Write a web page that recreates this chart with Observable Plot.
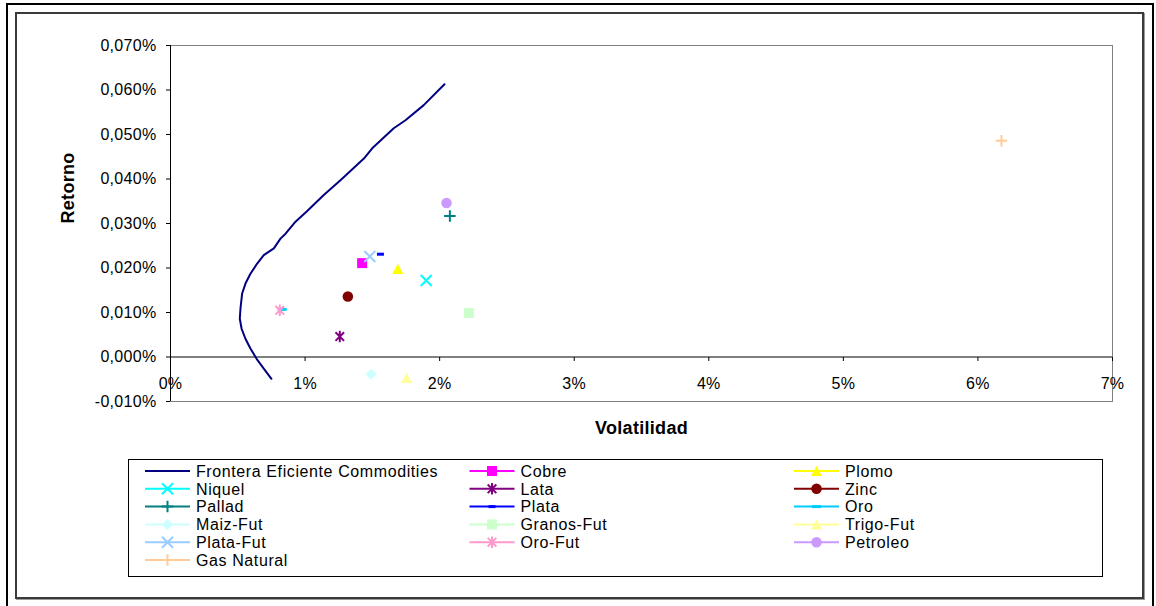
<!DOCTYPE html>
<html>
<head>
<meta charset="utf-8">
<script src="https://cdn.jsdelivr.net/npm/d3@7"></script>
<script src="https://cdn.jsdelivr.net/npm/@observablehq/plot@0.6"></script>
<style>
  html, body { margin: 0; padding: 0; background: #fff; }
  #wrap { position: relative; width: 1156px; height: 606px; overflow: hidden;
          font-family: "Liberation Sans", Arial, sans-serif; }
  #chart { position: absolute; left: 0; top: 0; }
  .outer { position: absolute; left: 6px; top: 3px; width: 1144px; height: 640px;
           border: 2px solid #000; pointer-events: none; }
  .area { position: absolute; left: 15px; top: 12px; width: 1125px; height: 583px;
          border: 2px solid #3a3a3a; box-shadow: 1px 1px 0 #9a9a9a; pointer-events: none; }
  #legend { position: absolute; left: 0; top: 0; pointer-events: none; }
  #legend text { letter-spacing: 0.6px; }
  #chart svg text { letter-spacing: 0.3px; }
</style>
</head>
<body>
<div id="wrap">
  <div id="chart"></div>
  <div class="area"></div>
  <div class="outer"></div>
  <svg id="legend" width="1156" height="606"></svg>
</div>
<script>
// Efficient frontier of the commodity portfolio (volatility %, daily return %)
const frontierVol = [0.750, 0.693, 0.644, 0.594, 0.557, 0.528, 0.515, 0.520, 0.532, 0.557,
                     0.594, 0.644, 0.693, 0.768, 0.817, 0.855, 0.929, 1.016, 1.139, 1.263,
                     1.437, 1.499, 1.659, 1.746, 1.882, 2.036];
const frontierRet = [-0.0049, -0.0026, -0.0006, 0.0019, 0.0041, 0.0064, 0.0086, 0.0109, 0.0142, 0.0165,
                     0.0187, 0.0210, 0.0229, 0.0244, 0.0266, 0.0277, 0.0304, 0.0328, 0.0364, 0.0397,
                     0.0446, 0.0469, 0.0514, 0.0532, 0.0566, 0.0613];

// Individual commodities
const series = ["Cobre", "Plomo", "Niquel", "Lata", "Zinc", "Pallad", "Plata", "Oro",
                "Maiz-Fut", "Granos-Fut", "Trigo-Fut", "Plata-Fut", "Oro-Fut", "Petroleo", "Gas Natural"];
const volatilidad = [1.424, 1.689, 1.900, 1.258, 1.318, 2.076, 1.560, 0.830,
                     1.491, 2.217, 1.755, 1.481, 0.812, 2.051, 6.175];
const retorno = [0.0211, 0.0198, 0.0172, 0.0046, 0.0136, 0.0317, 0.0231, 0.0107,
                 -0.0039, 0.0099, -0.0047, 0.0226, 0.0105, 0.0346, 0.0486];

// Axis ticks
const xTicks = [0, 1, 2, 3, 4, 5, 6, 7];
const yTicks = [-0.01, 0, 0.01, 0.02, 0.03, 0.04, 0.05, 0.06, 0.07];

// Marker shapes; size is the square of the marker's full extent
const shapes = {
  square: { draw(c, size) { const s = Math.sqrt(size); c.rect(-s / 2, -s / 2, s, s); } },
  triangle: { draw(c, size) { const s = Math.sqrt(size), h = s * 0.92;
    c.moveTo(0, -h / 2); c.lineTo(s / 2, h / 2); c.lineTo(-s / 2, h / 2); c.closePath(); } },
  diamond: { draw(c, size) { const r = Math.sqrt(size) / 2;
    c.moveTo(0, -r); c.lineTo(r, 0); c.lineTo(0, r); c.lineTo(-r, 0); c.closePath(); } },
  circle: { draw(c, size) { const r = Math.sqrt(size) / 2; c.moveTo(r, 0); c.arc(0, 0, r, 0, 2 * Math.PI); } },
  dash: { draw(c, size) { const s = Math.sqrt(size); c.rect(-s / 2, -1.5, s, 3); } },
  times: { draw(c, size) { const r = Math.sqrt(size) / 2;
    c.moveTo(-r, -r); c.lineTo(r, r); c.moveTo(-r, r); c.lineTo(r, -r); } },
  plus: { draw(c, size) { const r = Math.sqrt(size) / 2;
    c.moveTo(-r, 0); c.lineTo(r, 0); c.moveTo(0, -r); c.lineTo(0, r); } },
  asterisk: { draw(c, size) { const r = Math.sqrt(size) / 2, d = r * 0.75;
    c.moveTo(0, -r); c.lineTo(0, r); c.moveTo(-d, -d); c.lineTo(d, d); c.moveTo(-d, d); c.lineTo(d, -d); } },
  tickDown: { draw(c) { c.moveTo(0, 0); c.lineTo(0, 4); } }
};

// Styling of each commodity (same order as series)
const colors = ["#FF00FF", "#FFFF00", "#00FFFF", "#800080", "#800000", "#008080", "#0000FF", "#00CCFF",
                "#CCFFFF", "#CCFFCC", "#FFFF99", "#99CCFF", "#FF99CC", "#CC99FF", "#FFCC99"];
const markers = ["square", "triangle", "times", "asterisk", "circle", "plus", "dash", "dash",
                 "diamond", "square", "triangle", "times", "asterisk", "circle", "plus"];
const extents = [10, 11, 11, 11.5, 10.5, 11.5, 7, 9, 11, 10, 11, 11, 11.5, 10.5, 11.5];
const filled = new Set(["square", "triangle", "diamond", "circle", "dash"]);

const fmtY = d => (d < 0 ? "-" : "") + Math.abs(d).toFixed(3).replace(".", ",") + "%";
const fmtX = d => d + "%";

const frontier = frontierVol.map((v, i) => ({ vol: v, ret: frontierRet[i] }));

function dotOptions(i) {
  const m = markers[i];
  const base = {
    x: j => volatilidad[j], y: j => retorno[j],
    symbol: shapes[m], r: extents[i] / Math.sqrt(Math.PI)
  };
  return filled.has(m)
    ? { ...base, fill: colors[i], stroke: "none" }
    : { ...base, fill: "none", stroke: colors[i], strokeWidth: 2 };
}

const chart = Plot.plot({
  width: 1156,
  height: 606,
  marginLeft: 170,
  marginRight: 44,
  marginTop: 45,
  marginBottom: 205,
  style: { background: "transparent", fontFamily: "Liberation Sans, Arial, sans-serif", fontSize: "16px", color: "#000" },
  x: { domain: [0, 7], axis: null },
  y: { domain: [-0.01, 0.07] },
  marks: [
    Plot.frame({ stroke: "#808080" }),
    Plot.ruleY([0], { stroke: "#000" }),
    Plot.ruleX([0], { stroke: "#000" }),
    Plot.axisY({ ticks: yTicks, anchor: "left", tickSize: 4, tickPadding: 10, tickFormat: fmtY, label: null, fontSize: 16 }),
    Plot.dot(xTicks, { x: d => d, y: () => 0, symbol: shapes.tickDown, r: 2, stroke: "#000", fill: "none", strokeWidth: 1 }),
    Plot.text(xTicks, { x: d => d, y: () => 0, dy: 27, text: fmtX, fontSize: 16 }),
    Plot.line(frontier, { x: "vol", y: "ret", stroke: "#000080", strokeWidth: 2 }),
    ...series.map((name, i) => Plot.dot([i], dotOptions(i))),
    Plot.text(["Volatilidad"], { frameAnchor: "bottom", dy: 32, text: d => d, fontWeight: "bold", fontSize: 18 }),
    Plot.text(["Retorno"], { frameAnchor: "left", dx: -102, rotate: -90, text: d => d, fontWeight: "bold", fontSize: 18 })
  ]
});
document.getElementById("chart").appendChild(chart);

// Legend: three columns, row by row
const lg = d3.select("#legend");
lg.append("rect")
  .attr("x", 128.5).attr("y", 459.5).attr("width", 974).attr("height", 117)
  .attr("fill", "#fff").attr("stroke", "#000").attr("stroke-width", 1);

const entries = [{ name: "Frontera Eficiente Commodities", color: "#000080", index: -1 }]
  .concat(series.map((name, i) => ({ name, color: colors[i], index: i })));

entries.forEach((e, k) => {
  const col = k % 3, row = Math.floor(k / 3);
  const x0 = 145 + col * 324.5;
  const cy = 471 + row * 17.8;
  const g = lg.append("g");
  g.append("line")
    .attr("x1", x0).attr("x2", x0 + 45).attr("y1", cy).attr("y2", cy)
    .attr("stroke", e.color).attr("stroke-width", 2);
  if (e.index >= 0) {
    const m = markers[e.index];
    const path = g.append("path")
      .attr("d", d3.symbol(shapes[m], extents[e.index] ** 2)())
      .attr("transform", `translate(${x0 + 22.5},${cy})`);
    if (filled.has(m)) path.attr("fill", e.color);
    else path.attr("fill", "none").attr("stroke", e.color).attr("stroke-width", 2);
  }
  g.append("text")
    .attr("x", x0 + 51).attr("y", cy + 5.8)
    .attr("font-family", "Liberation Sans, Arial, sans-serif")
    .attr("font-size", 16).attr("fill", "#000")
    .text(e.name);
});
</script>
</body>
</html>
